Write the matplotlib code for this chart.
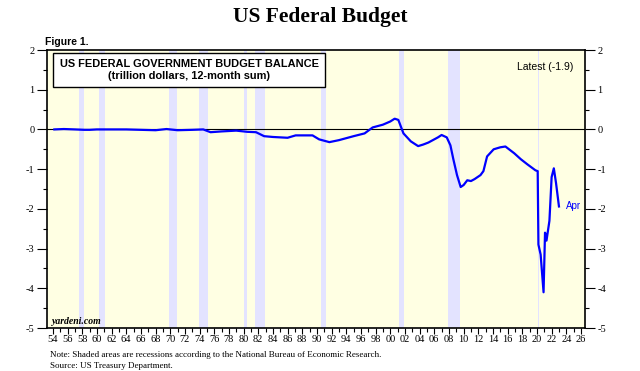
import matplotlib
matplotlib.use("Agg")
import matplotlib.pyplot as plt
from matplotlib.ticker import MultipleLocator, FuncFormatter

# Data
years = [1954.2, 1955.5, 1957.0, 1958.3, 1959.0, 1960.0, 1962.0, 1964.0, 1966.0, 1968.0,
         1969.5, 1971.0, 1973.0, 1974.5, 1975.5, 1977.0, 1979.0, 1980.5, 1981.7, 1982.8,
         1984.0, 1986.0, 1987.1, 1988.5, 1989.4, 1990.3, 1991.7, 1993.0, 1995.0, 1996.5,
         1997.6, 1999.0, 2000.0, 2000.6, 2001.1, 2001.8, 2002.8, 2003.8, 2004.5, 2005.2,
         2006.5, 2007.0, 2007.7, 2008.2, 2008.6, 2009.1, 2009.6, 2010.0, 2010.5, 2011.0,
         2011.5, 2012.3, 2012.7, 2013.2, 2014.1, 2015.0, 2015.7, 2016.9, 2017.8, 2018.7,
         2019.8, 2020.1, 2020.2, 2020.5, 2020.9, 2021.1, 2021.3, 2021.7, 2022.0, 2022.3,
         2022.6, 2023.0]
balance = [0.00, 0.01, 0.00, -0.01, -0.01, 0.00, 0.00, 0.00, -0.01, -0.02,
           0.01, -0.02, -0.01, 0.00, -0.07, -0.05, -0.03, -0.06, -0.07, -0.17,
           -0.19, -0.21, -0.15, -0.15, -0.15, -0.25, -0.32, -0.27, -0.17, -0.10,
           0.05, 0.12, 0.20, 0.27, 0.24, -0.10, -0.30, -0.42, -0.38, -0.33,
           -0.20, -0.14, -0.20, -0.40, -0.75, -1.15, -1.45, -1.40, -1.28, -1.30,
           -1.25, -1.15, -1.05, -0.68, -0.50, -0.45, -0.43, -0.60, -0.75, -0.88,
           -1.03, -1.05, -2.90, -3.15, -4.10, -2.60, -2.80, -2.30, -1.20, -0.98,
           -1.35, -1.94]

recessions = [(1957.6, 1958.3), (1960.3, 1961.1), (1969.9, 1970.9), (1973.9, 1975.2),
              (1980.0, 1980.5), (1981.5, 1982.9), (1990.5, 1991.2), (2001.2, 2001.9),
              (2007.9, 2009.5), (2020.1, 2020.3)]

fig = plt.figure(figsize=(6.4, 3.71), dpi=100)
ax = fig.add_axes([47/640, 1-328/371, (585-47)/640, (328-50)/371])
ax.set_facecolor("#FFFFE3")

for a, b in recessions:
    ax.axvspan(a, b, color="#E3E3FF", lw=0, zorder=1)

ax.axhline(0, color="black", lw=0.8, zorder=2)
ax.plot(years, balance, color="#0000FF", lw=1.6, zorder=3)

ax.set_xlim(1953.2, 2026.55)
ax.set_ylim(-5, 2)

ax.xaxis.set_major_locator(MultipleLocator(2))
ax.xaxis.set_minor_locator(MultipleLocator(1))
ax.xaxis.set_major_formatter(FuncFormatter(lambda v, p: f"{int(round(v)) % 100:02d}"))
ax.yaxis.set_major_locator(MultipleLocator(1))
ax.yaxis.set_minor_locator(MultipleLocator(0.5))
ax.yaxis.set_major_formatter(FuncFormatter(lambda v, p: f"{int(round(v))}"))

ax.tick_params(axis="y", which="both", left=True, right=True, labelleft=True,
               labelright=True, direction="out", labelsize=7.5, pad=2,
               labelfontfamily="Liberation Serif")
ax.tick_params(axis="y", which="major", length=7, width=0.8)
ax.tick_params(axis="y", which="minor", length=3, width=0.8)
ax.tick_params(axis="x", which="both", direction="out", top=False, labelsize=7.5, pad=1,
               labelfontfamily="Liberation Serif")
ax.tick_params(axis="x", which="major", length=4, width=0.8)
ax.tick_params(axis="x", which="minor", length=3, width=0.8)
for s in ax.spines.values():
    s.set_linewidth(1.2)

fig.text(0.5, 0.955, "US Federal Budget", ha="center", va="center",
         fontfamily="Liberation Serif", fontweight="bold", fontsize=15.5)
fig.text(45/640, 1-42/371, "Figure 1.", ha="left", va="center",
         fontfamily="Liberation Sans", fontweight="bold", fontsize=7.5)

fig.text((52+326)/2/640, 1-70/371,
         "US FEDERAL GOVERNMENT BUDGET BALANCE\n(trillion dollars, 12-month sum)",
         ha="center", va="center", fontfamily="Liberation Sans", fontweight="bold",
         fontsize=7.9, linespacing=1.15,
         bbox=dict(boxstyle="square,pad=0.55", fc="white", ec="black", lw=1.0))

fig.text(573/640, 1-67/371, "Latest (-1.9)", ha="right", va="center",
         fontfamily="Liberation Sans", fontsize=7.5)
ax.annotate("Apr", xy=(years[-1], balance[-1]), xytext=(5, 0), textcoords="offset points",
            ha="left", va="center", color="#0000FF", fontfamily="Liberation Sans", fontsize=7)
fig.text(52/640, 1-321/371, "yardeni.com", ha="left", va="center",
         fontfamily="Liberation Serif", fontweight="bold", fontstyle="italic", fontsize=7)

fig.text(50/640, 1-355/371,
         "Note: Shaded areas are recessions according to the National Bureau of Economic Research.",
         ha="left", va="center", fontfamily="Liberation Serif", fontsize=6.5)
fig.text(50/640, 1-366/371, "Source: US Treasury Department.",
         ha="left", va="center", fontfamily="Liberation Serif", fontsize=6.5)

fig.savefig("out.png", dpi=100)
